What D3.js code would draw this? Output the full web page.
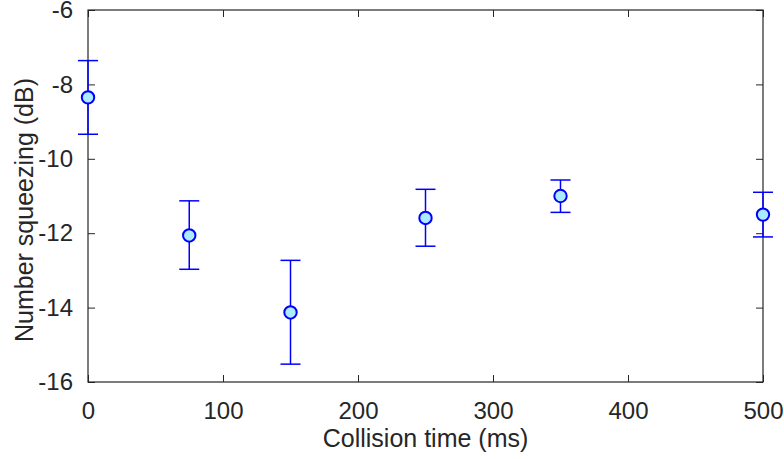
<!DOCTYPE html>
<html><head><meta charset="utf-8">
<script src="https://cdn.jsdelivr.net/npm/d3@7"></script>
<style>body{margin:0;background:#fff}svg{display:block}text{font-family:"Liberation Sans",Arial,Helvetica,sans-serif;fill:#262626}</style>
</head><body>
<script>
const times = [0, 75, 150, 250, 350, 500];
const squeezing = [-8.35, -12.06, -14.13, -11.59, -11.0, -11.5];
const errUpper = [-7.36, -11.13, -12.73, -10.82, -10.57, -10.9];
const errLower = [-9.34, -12.97, -15.52, -12.35, -11.44, -12.1];
const xTicks = [0, 100, 200, 300, 400, 500];
const yTicks = [-16, -14, -12, -10, -8, -6];

const W = 784, H = 459;
const m = {left: 88, right: 21, top: 10, bottom: 77};
const svg = d3.select("body").append("svg").attr("width", W).attr("height", H);
const x = d3.scaleLinear().domain([0, 500]).range([m.left, W - m.right]);
const y = d3.scaleLinear().domain([-16, -6]).range([H - m.bottom, m.top]);
const axisColor = "#262626";
const tl = 7;
const fs = 24;
const tfs = 25;

function style(g) {
  g.select(".domain").remove();
  g.selectAll(".tick line").attr("stroke", axisColor).attr("stroke-width", 1);
  g.selectAll(".tick text").attr("font-size", fs).style("fill", axisColor);
}
// bottom
svg.append("g").attr("transform", `translate(0,${y(-16)})`)
  .call(d3.axisBottom(x).tickValues(xTicks).tickSize(-tl).tickPadding(20).tickFormat(d3.format("d")))
  .call(style);
// top
svg.append("g").attr("transform", `translate(0,${y(-6)})`)
  .call(d3.axisTop(x).tickValues(xTicks).tickSize(-tl).tickFormat(""))
  .call(style);
// left
svg.append("g").attr("transform", `translate(${x(0)},0)`)
  .call(d3.axisLeft(y).tickValues(yTicks).tickSize(-tl).tickPadding(15).tickFormat(d => String(d).replace("\u2212","-")))
  .call(style);
// right
svg.append("g").attr("transform", `translate(${x(500)},0)`)
  .call(d3.axisRight(y).tickValues(yTicks).tickSize(-tl).tickFormat(""))
  .call(style);
// box
svg.append("rect").attr("x", x(0)).attr("y", y(-6)).attr("width", x(500) - x(0)).attr("height", y(-16) - y(-6))
  .attr("fill", "none").attr("stroke", axisColor).attr("stroke-width", 1.2);

const data = times.map((t, i) => ({t, v: squeezing[i], hi: errUpper[i], lo: errLower[i]}));
const blue = "#0000ff";
const capW = 10;
const g = svg.append("g");
data.forEach(d => {
  g.append("line").attr("x1", x(d.t)).attr("x2", x(d.t)).attr("y1", y(d.hi)).attr("y2", y(d.lo)).attr("stroke", blue).attr("stroke-width", 1.5);
  [d.hi, d.lo].forEach(v => g.append("line").attr("x1", x(d.t) - capW).attr("x2", x(d.t) + capW).attr("y1", y(v)).attr("y2", y(v)).attr("stroke", blue).attr("stroke-width", 1.5));
});
g.selectAll("circle").data(data).join("circle")
  .attr("cx", d => x(d.t)).attr("cy", d => y(d.v)).attr("r", 6.2)
  .attr("fill", "#abebfd").attr("stroke", blue).attr("stroke-width", 2);

svg.append("text").attr("x", (x(0) + x(500)) / 2).attr("y", 447).attr("text-anchor", "middle").attr("font-size", tfs).text("Collision time (ms)");
svg.append("text").attr("transform", `translate(33,210) rotate(-90)`).attr("text-anchor", "middle").attr("font-size", tfs).text("Number squeezing (dB)");
</script>
</body></html>
